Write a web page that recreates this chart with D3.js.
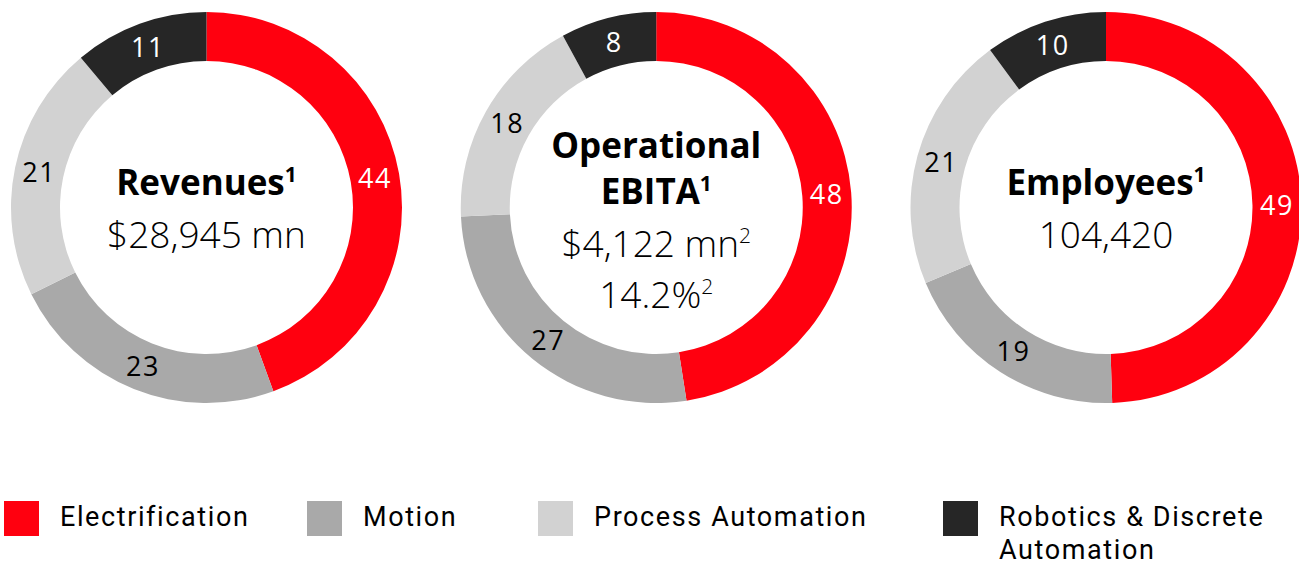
<!DOCTYPE html>
<html>
<head>
<meta charset="utf-8">
<script src="https://cdn.jsdelivr.net/npm/d3@7"></script>
<style>
  html, body { margin: 0; padding: 0; background: #fff; }
  svg { display: block; font-family: "Open Sans", "Noto Sans", sans-serif; }
  .legend text { font-family: Roboto, "Open Sans", sans-serif; }
</style>
</head>
<body>
<svg id="chart" width="1299" height="565"></svg>
<script>
// ---- data ----
const segments = ["Electrification", "Motion", "Process Automation", "Robotics & Discrete Automation"];
const segmentColors = ["#FF000F", "#A9A9A9", "#D2D2D2", "#262626"];
const labelColors = ["#FFFFFF", "#000000", "#000000", "#FFFFFF"];

const revenuesShare = [44, 23, 21, 11];
const ebitaShare = [48, 27, 18, 8];
const employeesShare = [49, 19, 21, 10];

const chartTitles = [["Revenues"], ["Operational", "EBITA"], ["Employees"]];
const chartValues = [["$28,945 mn"], ["$4,122 mn", "14.2%"], ["104,420"]];
const valueFootnotes = [[""], ["2", "2"], [""]];

// ---- layout ----
const svg = d3.select("#chart");
const centers = d3.scalePoint().domain([0, 1, 2]).range([206.5, 1106]);
const cy = 207.5;
const outerR = 195.5, innerR = 146.5;

const pie = d3.pie().sort(null).value(d => d);
const arc = d3.arc().innerRadius(innerR).outerRadius(outerR);
const color = d3.scaleOrdinal().domain(segments).range(segmentColors);

const datasets = [revenuesShare, ebitaShare, employeesShare];

datasets.forEach((vals, i) => {
  const g = svg.append("g").attr("transform", `translate(${centers(i)},${cy})`);
  const arcs = pie(vals);
  g.selectAll("path").data(arcs).enter().append("path")
    .attr("d", arc)
    .attr("fill", (d, j) => color(segments[j]));
  g.selectAll("text.lbl").data(arcs).enter().append("text")
    .attr("class", "lbl")
    .attr("transform", d => `translate(${arc.centroid(d)})`)
    .attr("text-anchor", "middle")
    .attr("dy", "0.36em")
    .attr("font-size", 27)
    .attr("letter-spacing", 1.5)
    .attr("fill", (d, j) => labelColors[j])
    .text(d => d.data);

  // centre text
  const titles = chartTitles[i];
  const values = chartValues[i];
  const firstBaseline = (i === 1) ? -49.5 : -12.5;
  titles.forEach((t, k) => {
    const txt = g.append("text")
      .attr("text-anchor", "middle")
      .attr("y", firstBaseline + k * 46)
      .attr("font-size", 35)
      .attr("font-weight", 700)
      .attr("fill", "#000");
    txt.append("tspan").text(t);
    if (k === titles.length - 1) {
      txt.append("tspan").attr("font-size", 21).attr("dy", -13).text("1");
    }
  });
  const valStart = firstBaseline + (titles.length - 1) * 46 + 53;
  values.forEach((v, k) => {
    const txt = g.append("text")
      .attr("text-anchor", "middle")
      .attr("y", valStart + k * 51)
      .attr("font-size", 37)
      .attr("font-weight", 300)
      .attr("fill", "#000");
    txt.append("tspan").text(v);
    const fn = valueFootnotes[i][k];
    if (fn) txt.append("tspan").attr("font-size", 21).attr("dy", -14).text(fn);
  });
});

// ---- legend ----
const legendX = [4, 307, 538, 943];
const legend = svg.append("g").attr("class", "legend");
segments.forEach((s, j) => {
  const lg = legend.append("g").attr("transform", `translate(${legendX[j]},501)`);
  lg.append("rect").attr("width", 35).attr("height", 35).attr("fill", color(s));
  const lines = j === 3 ? ["Robotics & Discrete", "Automation"] : [s];
  const txt = lg.append("text")
    .attr("y", 25)
    .attr("font-size", 27)
    .attr("letter-spacing", 1.6)
    .attr("fill", "#000");
  lines.forEach((ln, k) => {
    txt.append("tspan")
      .attr("x", 56)
      .attr("dy", k === 0 ? 0 : 33)
      .text(ln);
  });
});
</script>
</body>
</html>
